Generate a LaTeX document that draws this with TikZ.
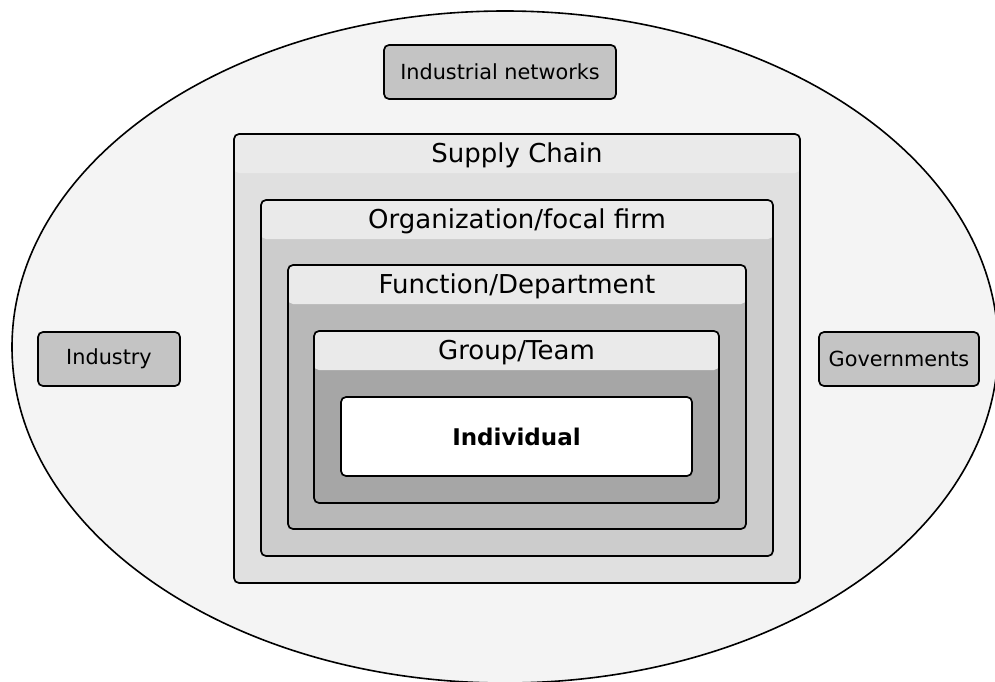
\documentclass[tikz,border=0pt]{standalone}
\usepackage{fontspec}
\setmainfont{DejaVu Sans}
\usetikzlibrary{shapes.geometric}
\definecolor{bgfill}{HTML}{F4F4F4}
\definecolor{hdrfill}{HTML}{EAEAEA}
\definecolor{scfill}{HTML}{E0E0E0}
\definecolor{orgfill}{HTML}{CCCCCC}
\definecolor{funcfill}{HTML}{B8B8B8}
\definecolor{grpfill}{HTML}{A6A6A6}
\definecolor{smallfill}{HTML}{C4C4C4}
\begin{document}
\begin{tikzpicture}[x=1pt,y=-1pt,
  levelbox/.style={draw=black, line width=1.7pt, rounded corners=5pt, inner sep=0pt,
    path picture={\fill[hdrfill] (path picture bounding box.north west) rectangle ([yshift=-39pt]path picture bounding box.north east);}},
  smallbox/.style={draw=black, line width=1.7pt, rounded corners=5pt, fill=smallfill, inner sep=0pt,
    font=\fontsize{20.8}{24}\selectfont},
  hdrtext/.style={anchor=center, inner sep=0pt, font=\fontsize{26}{31}\selectfont}]
\useasboundingbox (0,0) rectangle (995,682);
\fill[white] (0,0) rectangle (995,682);
\node[ellipse, draw=black, line width=1.6pt, fill=bgfill, minimum width=986pt, minimum height=672pt, inner sep=0pt] (env) at (505,347) {};
\node[levelbox, fill=scfill, minimum width=566pt, minimum height=449pt] (sc) at (517,358.5) {};
\node[levelbox, fill=orgfill, minimum width=512pt, minimum height=356pt] (org) at (517,378) {};
\node[levelbox, fill=funcfill, minimum width=458pt, minimum height=264pt] (func) at (517,397) {};
\node[levelbox, fill=grpfill, minimum width=405pt, minimum height=172pt] (grp) at (516.5,417) {};
\node[draw=black, line width=1.7pt, rounded corners=5pt, fill=white, inner sep=0pt, minimum width=351pt, minimum height=79pt,
  font=\fontsize{23}{28}\selectfont\bfseries] (ind) at (516.5,436.5) {Individual};
\node[hdrtext] (sclbl) at ([yshift=-22.5pt]sc.north) {Supply Chain};
\node[hdrtext] (orglbl) at ([yshift=-22.5pt]org.north) {Organization/focal firm};
\node[hdrtext] (funclbl) at ([yshift=-22.5pt]func.north) {Function/Department};
\node[hdrtext] (grplbl) at ([yshift=-22.5pt]grp.north) {Group/Team};
\node[smallbox, minimum width=232pt, minimum height=54pt] (net) at (500,72) {Industrial networks};
\node[smallbox, minimum width=142pt, minimum height=54pt] (indus) at (109,359) {Industry};
\node[smallbox, minimum width=160pt, minimum height=54pt] (gov) at (899,359) {Governments};
\end{tikzpicture}
\end{document}
